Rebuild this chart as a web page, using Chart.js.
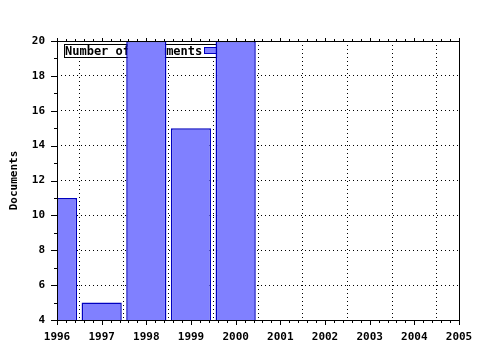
<!DOCTYPE html>
<html>
<head>
<meta charset="utf-8">
<script src="https://cdn.jsdelivr.net/npm/chart.js@4/dist/chart.umd.min.js"></script>
<style>
  html, body { margin: 0; padding: 0; background: #fff; }
  #wrap { width: 480px; height: 350px; }
</style>
</head>
<body>
<div id="wrap"><canvas id="chart" width="480" height="350"></canvas></div>
<script>
const years = [1996, 1997, 1998, 1999, 2000];
const documents = [11, 5, 20, 15, 20];
const xTicks = [1996, 1997, 1998, 1999, 2000, 2001, 2002, 2003, 2004, 2005];
const yTicks = [4, 6, 8, 10, 12, 14, 16, 18, 20];
const seriesLabel = 'Number of Documents';

const FONT = { family: '"DejaVu Sans Mono", monospace', size: 11, weight: 'bold' };
const BAR_FILL = '#8080ff';
const BAR_EDGE = '#0000c0';

// frame, outer ticks (major + minor) on all four sides
const framePlugin = {
  id: 'frame',
  afterDatasetsDraw(chart) {
    const { ctx, chartArea: a, scales } = chart;
    ctx.save();
    ctx.strokeStyle = '#000';
    ctx.lineWidth = 1;
    ctx.strokeRect(a.left + 0.5, a.top + 0.5, a.right - a.left, a.bottom - a.top);
    ctx.beginPath();
    for (let v = xTicks[0]; v <= xTicks[xTicks.length - 1] + 1e-6; v += 0.2) {
      const px = Math.round(scales.x.getPixelForValue(v)) + 0.5;
      const major = Math.abs(v - Math.round(v)) < 1e-6;
      ctx.moveTo(px, a.bottom);
      ctx.lineTo(px, a.bottom + (major ? 5 : 3));
      ctx.moveTo(px, a.top);
      ctx.lineTo(px, a.top - (major ? 3 : 2));
    }
    for (let v = yTicks[0]; v <= yTicks[yTicks.length - 1] + 1e-6; v += 1) {
      const py = Math.round(scales.y.getPixelForValue(v)) + 0.5;
      const major = v % 2 === 0;
      ctx.moveTo(a.left, py);
      ctx.lineTo(a.left - (major ? 6 : 3), py);
    }
    ctx.stroke();
    ctx.restore();
  }
};

// legend box inside the plot, drawn under the bars
const legendPlugin = {
  id: 'innerLegend',
  beforeDatasetsDraw(chart) {
    const { ctx, chartArea: a } = chart;
    const x = a.left + 7, y = a.top + 3;
    ctx.save();
    ctx.font = `bold 12px ${FONT.family}`;
    const w = 153, h = 13;
    ctx.fillStyle = '#fff';
    ctx.fillRect(x, y, w, h);
    ctx.strokeStyle = '#000';
    ctx.lineWidth = 1;
    ctx.strokeRect(x + 0.5, y + 0.5, w, h);
    ctx.fillStyle = '#000';
    ctx.textBaseline = 'middle';
    ctx.fillText(seriesLabel, x + 1, y + h / 2 + 1);
    ctx.fillStyle = BAR_FILL;
    ctx.fillRect(x + w - 13, y + 3, 12, 7);
    ctx.strokeStyle = BAR_EDGE;
    ctx.strokeRect(x + w - 12.5, y + 3.5, 12, 6);
    ctx.restore();
  }
};

new Chart(document.getElementById('chart'), {
  type: 'bar',
  data: {
    datasets: [{
      label: seriesLabel,
      data: years.map((yr, i) => ({ x: yr, y: documents[i] })),
      backgroundColor: BAR_FILL,
      borderColor: BAR_EDGE,
      borderWidth: 1.5,
      borderSkipped: false,
      categoryPercentage: 1,
      barPercentage: 0.9
    }]
  },
  options: {
    responsive: false,
    animation: false,
    layout: { padding: { left: 0, right: 21, top: 41, bottom: 0 } },
    plugins: { legend: { display: false }, tooltip: { enabled: false } },
    scales: {
      x: {
        type: 'linear',
        min: xTicks[0],
        max: xTicks[xTicks.length - 1],
        offset: false,
        afterBuildTicks(s) { s.ticks = xTicks.map(v => ({ value: v })); },
        afterFit(s) { s.height = 30; s.paddingLeft = 0; s.paddingRight = 0; },
        ticks: { color: '#000', font: FONT, padding: 11, maxRotation: 0, callback: v => String(v) },
        grid: { color: '#000', lineWidth: 1, drawTicks: false, tickLength: 0 },
        border: { display: false, dash: [1, 3] }
      },
      y: {
        min: yTicks[0],
        max: yTicks[yTicks.length - 1],
        afterBuildTicks(s) { s.ticks = yTicks.map(v => ({ value: v })); },
        afterFit(s) { s.width = 57; s.paddingTop = 0; s.paddingBottom = 0; },
        title: { display: true, text: 'Documents', color: '#000', font: FONT, padding: { top: 8, bottom: 0 } },
        ticks: { color: '#000', font: FONT, padding: 12 },
        grid: { color: '#000', lineWidth: 1, drawTicks: false, tickLength: 0 },
        border: { display: false, dash: [1, 3] }
      }
    }
  },
  plugins: [legendPlugin, framePlugin]
});
</script>
</body>
</html>
